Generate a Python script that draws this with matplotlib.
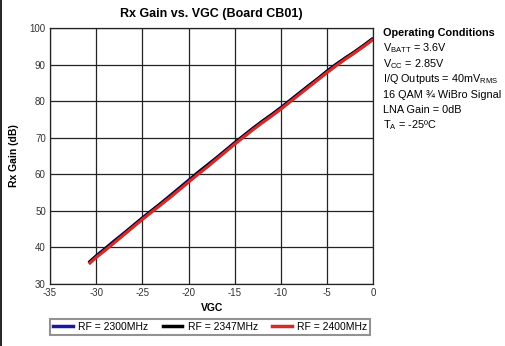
import matplotlib
matplotlib.use('Agg')
import matplotlib.pyplot as plt
from matplotlib.lines import Line2D

plt.rcParams['font.family'] = ['Liberation Sans', 'DejaVu Sans']
plt.rcParams['mathtext.fontset'] = 'custom'
plt.rcParams['mathtext.rm'] = 'Liberation Sans'
plt.rcParams['axes.unicode_minus'] = False

# ── Datos ─────────────────────────────────────────────
vgc = [-30.8, -30, -29, -28, -27, -26, -25, -24, -23, -22, -21, -20,
       -19, -18, -17, -16, -15, -14, -13, -12, -11, -10, -9, -8,
       -7, -6, -5, -4, -3, -2, -1, 0]
gain_2300 = [35.8, 37.6, 39.7, 41.8, 43.8, 45.9, 48.0, 50.0, 52.0, 54.1, 56.2, 58.3,
             60.4, 62.4, 64.4, 66.5, 68.6, 70.6, 72.6, 74.5, 76.3, 78.2, 80.2, 82.2,
             84.2, 86.1, 88.2, 90.1, 91.8, 93.4, 95.2, 97.1]
gain_2347 = [35.7, 37.5, 39.5, 41.6, 43.7, 45.8, 47.9, 49.9, 51.9, 53.9, 56.0, 58.1,
             60.3, 62.3, 64.3, 66.4, 68.5, 70.5, 72.5, 74.4, 76.2, 78.1, 80.1, 82.1,
             84.1, 86.1, 88.1, 90.0, 91.8, 93.5, 95.3, 97.2]
gain_2400 = [35.4, 37.2, 39.2, 41.3, 43.4, 45.5, 47.6, 49.6, 51.6, 53.6, 55.7, 57.8,
             59.9, 61.9, 64.0, 66.1, 68.2, 70.2, 72.2, 74.1, 75.9, 77.8, 79.8, 81.8,
             83.8, 85.8, 87.8, 89.7, 91.5, 93.2, 95.0, 96.9]

series = [
    ('RF = 2300MHz', gain_2300, '#1a1aa0'),
    ('RF = 2347MHz', gain_2347, '#000000'),
    ('RF = 2400MHz', gain_2400, '#d42a2a'),
]

conditions = [
    r'V$_{\mathrm{BATT}}$ = 3.6V',
    r'V$_{\mathrm{CC}}$ = 2.85V',
    r'I/Q Outputs = 40mV$_{\mathrm{RMS}}$',
    '16 QAM ¾ WiBro Signal',
    'LNA Gain = 0dB',
    r'T$_{\mathrm{A}}$ = -25ºC',
]

fig = plt.figure(figsize=(5.05, 3.46), dpi=100, facecolor='white')
ax = fig.add_axes([0.099, 0.180, 0.640, 0.739])

for label, g, col in series:
    ax.plot(vgc, g, color=col, linewidth=2.3, label=label, solid_capstyle='butt')

ax.set_xlim(-35, 0)
ax.set_ylim(30, 100)
ax.set_xticks(range(-35, 1, 5))
ax.set_yticks(range(30, 101, 10))
ax.grid(color='#222222', linewidth=0.9)
ax.set_axisbelow(True)
ax.tick_params(length=0, labelsize=7, colors='#333333', pad=3)
for sp in ax.spines.values():
    sp.set_color('#222222')
    sp.set_linewidth(0.9)

ax.set_title('Rx Gain vs. VGC (Board CB01)', fontsize=9, fontweight='bold', pad=8)
ax.set_xlabel('VGC', fontsize=7.5, fontweight='bold', labelpad=4)
ax.set_ylabel('Rx Gain (dB)', fontsize=7.5, fontweight='bold', labelpad=8)

# ── Condiciones de operación ─────────────────────────
fig.text(0.758, 0.905, 'Operating Conditions', fontsize=7.8, fontweight='bold', va='center')
for i, line in enumerate(conditions):
    fig.text(0.758, 0.860 - i * 0.0445, line, fontsize=7.8, va='center')

# ── Leyenda ──────────────────────────────────────────
handles = [Line2D([0], [0], color=c, lw=2.5) for _, _, c in series]
leg = fig.legend(handles, [s[0] for s in series], loc='center',
                 bbox_to_anchor=(0.416, 0.055), ncol=3, fontsize=7.5,
                 frameon=True, fancybox=False, handlelength=1.9,
                 columnspacing=1.4, handletextpad=0.5, borderpad=0.25,
                 borderaxespad=0)
leg.get_frame().set_edgecolor('#777777')
leg.get_frame().set_linewidth(1.5)

fig.add_artist(Line2D([0.002, 0.002], [0, 1], color='black', lw=1.2,
                      transform=fig.transFigure))

fig.savefig('out.png', dpi=100, facecolor='white')
